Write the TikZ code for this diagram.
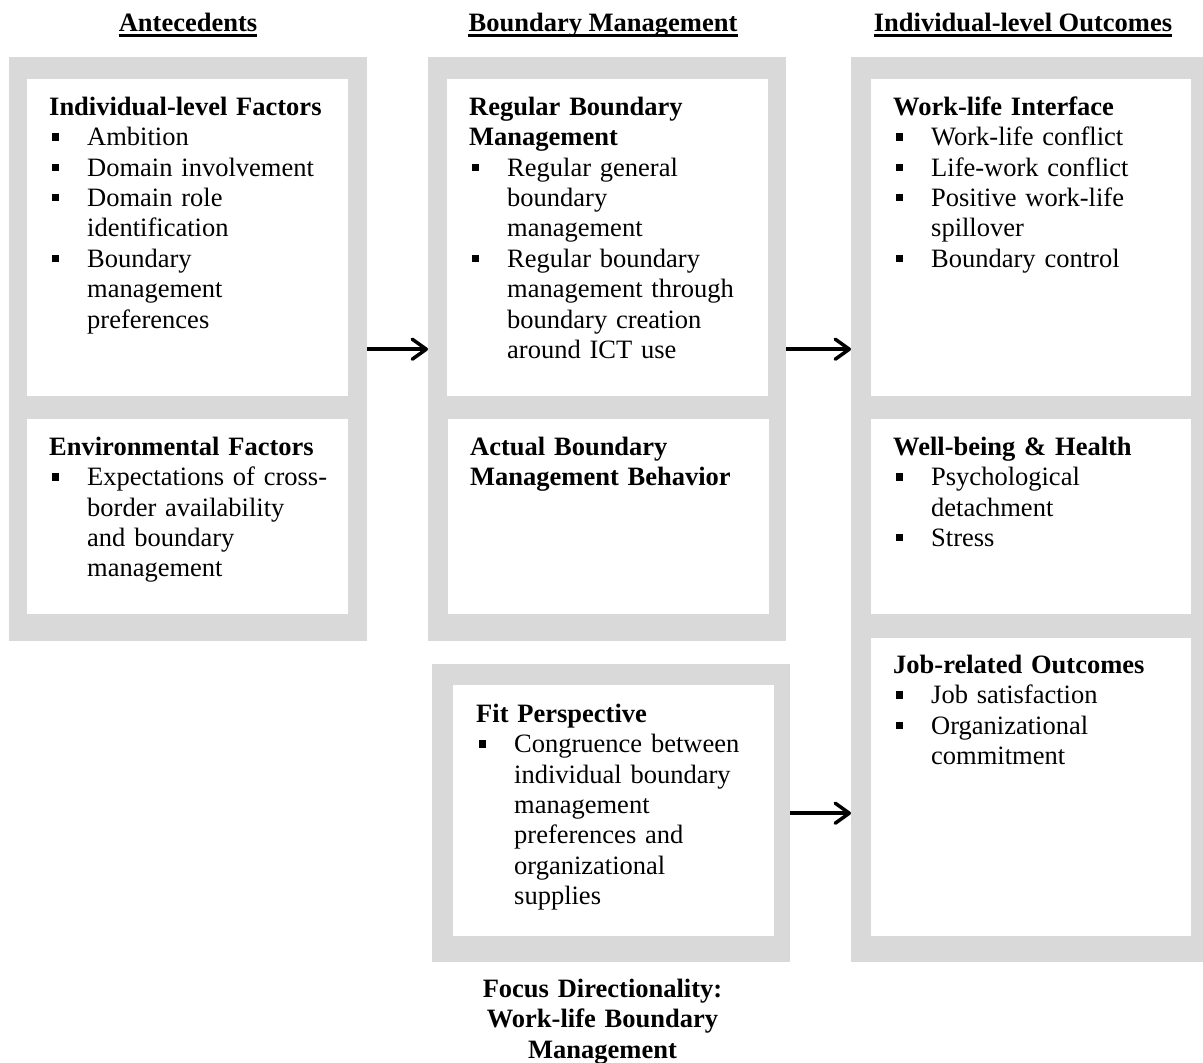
\documentclass[tikz,border=0pt]{standalone}
\usepackage{fontspec}
\setmainfont{Liberation Serif}
\usetikzlibrary{arrows.meta}
\definecolor{framegray}{HTML}{D9D9D9}

% square bullet and list helpers
\newcommand{\bsq}{\rule[5pt]{7pt}{7.3pt}}
\newcommand{\itm}[1]{\par\hangindent=38pt\hangafter=1\noindent\hspace*{2.4pt}\makebox[35.6pt][l]{\bsq}#1\par}
\newcommand{\hd}[1]{\noindent\rule{0pt}{20pt}\textbf{#1}\par}

\tikzset{
  frame/.style={fill=framegray, draw=none, inner sep=0pt, anchor=north west},
  panel/.style={fill=white, draw=none, inner sep=0pt, anchor=north west},
  body/.style={anchor=north west, inner sep=0pt, text width=300pt, align=left,
    font=\fontsize{26.5}{30.4}\selectfont\setlength{\parskip}{0pt}},
  head/.style={anchor=base, inner sep=0pt, font=\fontsize{26.5}{30.4}\selectfont\bfseries},
  caption/.style={anchor=north, inner sep=0pt, text width=330pt, align=center,
    font=\fontsize{26.5}{30.4}\selectfont\bfseries},
  conn/.style={line width=3.5pt, -{Straight Barb[length=14pt,width=20pt,round]}}
}

\begin{document}
\begin{tikzpicture}[x=1pt,y=-1pt]
\useasboundingbox (0,0) rectangle (1203,1063);

% column headings
\node[head] (hA) at (188,31) {Antecedents};
\node[head] (hB) at (603,31) {Boundary Management};
\node[head] (hC) at (1023,31) {Individual-level Outcomes};
\foreach \h in {hA,hB,hC}
  \draw[line width=2.5pt] ([yshift=-4.5pt]\h.base west) -- ([yshift=-4.5pt]\h.base east);

% antecedents
\node[frame, minimum width=358pt, minimum height=584pt] (fL) at (9,57) {};
\node[panel, minimum width=321pt, minimum height=317pt] (pL1) at (27,79) {};
\node[panel, minimum width=321pt, minimum height=195pt] (pL2) at (27,419) {};
\node[body] (tL1) at (49,95) {\hd{Individual-level Factors}
  \itm{Ambition}
  \itm{Domain involvement}
  \itm{Domain role\newline identification}
  \itm{Boundary\newline management\newline preferences}};
\node[body] (tL2) at (49,435) {\hd{Environmental Factors}
  \itm{Expectations of cross-\newline border availability\newline and boundary\newline management}};

% boundary management
\node[frame, minimum width=358pt, minimum height=584pt] (fM) at (428,57) {};
\node[panel, minimum width=321pt, minimum height=317pt] (pM1) at (447,79) {};
\node[panel, minimum width=321pt, minimum height=195pt] (pM2) at (448,419) {};
\node[body] (tM1) at (469,95) {\noindent\rule{0pt}{20pt}\textbf{Regular Boundary\newline Management}\par
  \itm{Regular general\newline boundary\newline management}
  \itm{Regular boundary\newline management through\newline boundary creation\newline around ICT use}};
\node[body] (tM2) at (470,435) {\noindent\rule{0pt}{20pt}\textbf{Actual Boundary\newline Management Behavior}\par};

% fit perspective
\node[frame, minimum width=358pt, minimum height=298pt] (fB) at (432,664) {};
\node[panel, minimum width=321pt, minimum height=251pt] (pB) at (453,685) {};
\node[body] (tB) at (476,702) {\hd{Fit Perspective}
  \itm{Congruence between\newline individual boundary\newline management\newline preferences and\newline organizational\newline supplies}};
\node[caption] (cap) at (602.5,977) {\rule{0pt}{20pt}Focus Directionality:\\ Work-life Boundary\\ Management};

% outcomes
\node[frame, minimum width=370pt, minimum height=905pt] (fR) at (851,57) {};
\node[panel, minimum width=320pt, minimum height=317pt] (pR1) at (871,79) {};
\node[panel, minimum width=320pt, minimum height=195pt] (pR2) at (871,419) {};
\node[panel, minimum width=320pt, minimum height=298pt] (pR3) at (871,638) {};
\node[body] (tR1) at (893,95) {\hd{Work-life Interface}
  \itm{Work-life conflict}
  \itm{Life-work conflict}
  \itm{Positive work-life\newline spillover}
  \itm{Boundary control}};
\node[body] (tR2) at (893,435) {\hd{Well-being \& Health}
  \itm{Psychological\newline detachment}
  \itm{Stress}};
\node[body] (tR3) at (893,653) {\hd{Job-related Outcomes}
  \itm{Job satisfaction}
  \itm{Organizational\newline commitment}};

% connectors
\draw[conn] (fL.east) -- (fM.west);
\draw[conn] (fM.east) -- (fM.east -| fR.west);
\draw[conn] (fB.east) -- (fB.east -| fR.west);
\end{tikzpicture}
\end{document}
